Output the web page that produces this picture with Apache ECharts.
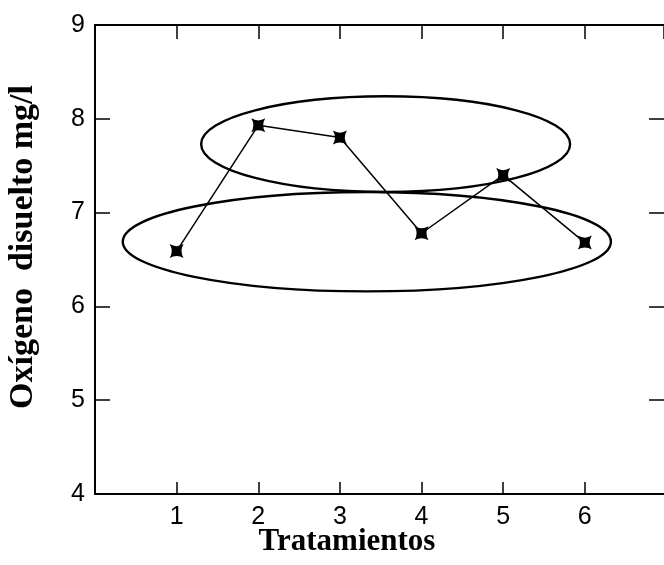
<!DOCTYPE html>
<html>
<head>
<meta charset="utf-8">
<script src="https://cdn.jsdelivr.net/npm/echarts@6/dist/echarts.min.js"></script>
<style>html,body{margin:0;padding:0;background:#fff}#c{width:664px;height:565px}</style>
</head>
<body>
<div id="c"></div>
<script>
// Data
var treatments = [1, 2, 3, 4, 5, 6];
var oxygen = [6.59, 7.93, 7.80, 6.78, 7.40, 6.68];
var xTickLabels = ['1', '2', '3', '4', '5', '6'];
var yTickLabels = ['4', '5', '6', '7', '8', '9'];
// Ellipses: [centerX, centerY, radiusX, radiusY] in data units
var ellipseUpper = [3.56, 7.73, 2.26, 0.51];
var ellipseLower = [3.33, 6.69, 2.99, 0.53];

var chart = echarts.init(document.getElementById('c'), null, {renderer: 'canvas'});
var starPath = 'path://M0,0 Q5,3 10,0 Q7,5 10,10 Q5,7 0,10 Q3,5 0,0 Z';
var axisLine = {show: true, onZero: false, lineStyle: {color: '#000', width: 2}};
var tickStyle = {color: '#000', width: 1.5};

function ellipseItem(params, api) {
  var e = params.dataIndex === 0 ? ellipseUpper : ellipseLower;
  var c = api.coord([e[0], e[1]]);
  var p = api.coord([e[0] + e[2], e[1] + e[3]]);
  return {
    type: 'ellipse',
    shape: {cx: c[0], cy: c[1], rx: Math.abs(p[0] - c[0]), ry: Math.abs(p[1] - c[1])},
    style: {fill: 'none', stroke: '#000', lineWidth: 2.4}
  };
}

chart.setOption({
  animation: false,
  backgroundColor: '#fff',
  grid: {left: 95, top: 25, right: 0, height: 469, containLabel: false},
  xAxis: [{
    type: 'value', position: 'bottom', min: 0, max: 6.97, interval: 1,
    axisLine: axisLine,
    axisTick: {show: true, inside: true, length: 12, lineStyle: tickStyle},
    axisLabel: {
      margin: 11, color: '#000', fontFamily: 'Liberation Sans', fontSize: 25,
      showMaxLabel: false,
      formatter: function (v) { var i = treatments.indexOf(v); return i >= 0 ? xTickLabels[i] : ''; }
    },
    splitLine: {show: false}
  }, {
    type: 'value', position: 'top', min: 0, max: 6.97, interval: 1,
    axisLine: axisLine,
    axisTick: {show: true, inside: true, length: 14, lineStyle: tickStyle},
    axisLabel: {show: false},
    splitLine: {show: false}
  }],
  yAxis: [{
    type: 'value', position: 'left', min: 4, max: 9, interval: 1,
    axisLine: axisLine,
    axisTick: {show: true, inside: true, length: 15, lineStyle: tickStyle},
    axisLabel: {
      margin: 10, color: '#000', fontFamily: 'Liberation Sans', fontSize: 25,
      formatter: function (v) { return yTickLabels[Math.round(v - 4)]; }
    },
    splitLine: {show: false}
  }, {
    type: 'value', position: 'right', min: 4, max: 9, interval: 1,
    axisLine: {show: false, onZero: false},
    axisTick: {show: true, inside: true, length: 15, lineStyle: tickStyle},
    axisLabel: {show: false},
    splitLine: {show: false}
  }],
  graphic: [{
    type: 'text', x: 347, y: 542,
    style: {text: 'Tratamientos', font: 'bold 31px "Liberation Serif"', fill: '#000', textAlign: 'center', textVerticalAlign: 'middle'}
  }, {
    type: 'text', x: 23, y: 247, rotation: Math.PI / 2,
    style: {text: 'Oxígeno  disuelto mg/l', font: 'bold 34px "Liberation Serif"', fill: '#000', textAlign: 'center', textVerticalAlign: 'middle'}
  }],
  series: [{
    type: 'custom',
    renderItem: ellipseItem,
    data: [[0], [1]],
    silent: true,
    z: 1
  }, {
    type: 'line',
    data: treatments.map(function (t, i) { return [t, oxygen[i]]; }),
    lineStyle: {color: '#000', width: 1.5},
    itemStyle: {color: '#000'},
    symbol: starPath,
    symbolSize: 14,
    z: 3
  }]
});
</script>
</body>
</html>
